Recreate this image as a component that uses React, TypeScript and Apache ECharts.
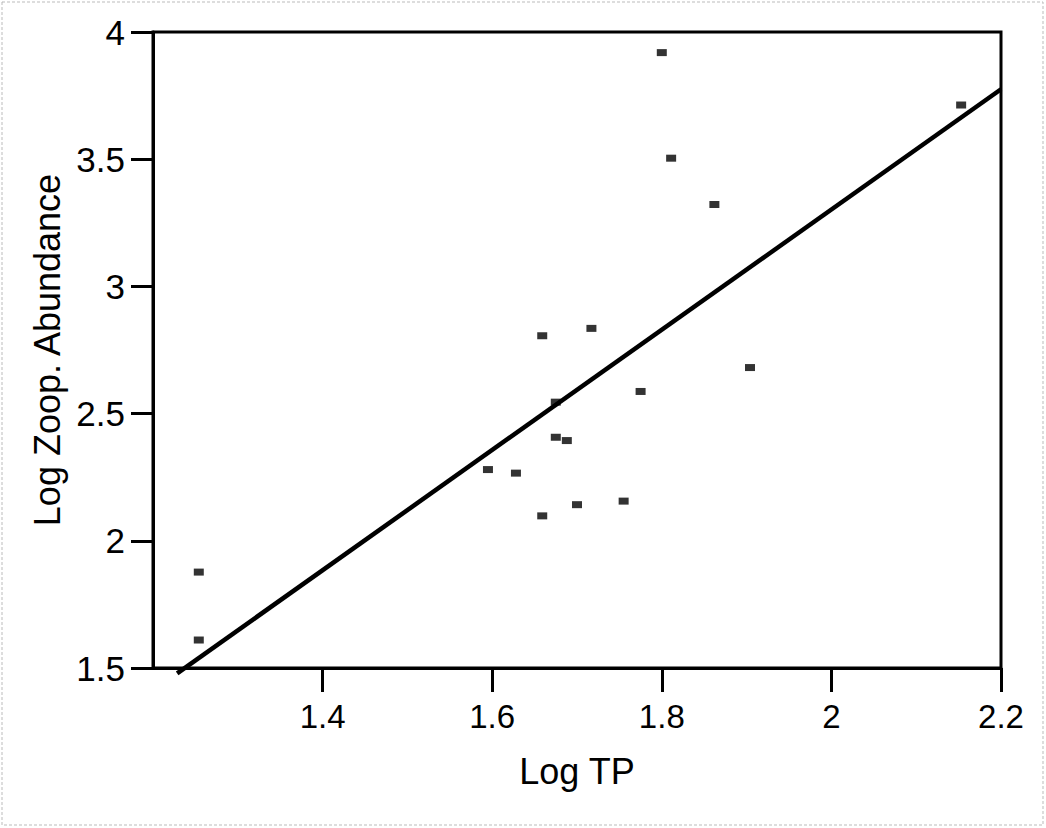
import React, { useEffect, useRef } from "react";
import * as echarts from "echarts";

const logTP = [1.254, 1.254, 1.595, 1.628, 1.659, 1.717, 1.675, 1.675, 1.688, 1.659, 1.700, 1.755, 1.775, 1.904, 1.800, 1.811, 1.862, 2.153];
const logZoop = [1.877, 1.61, 2.28, 2.266, 2.806, 2.835, 2.545, 2.407, 2.394, 2.098, 2.142, 2.156, 2.587, 2.681, 3.919, 3.504, 3.322, 3.713];
const fitX = [1.2285, 2.2];
const fitY = [1.479, 3.775];

const xAxisName = "Log TP";
const yAxisName = "Log Zoop. Abundance";

const FONT = "'Liberation Sans', Arial, Helvetica, sans-serif";

export default function App() {
  const ref = useRef<HTMLDivElement>(null);

  useEffect(() => {
    document.body.style.margin = "0";
    const chart = echarts.init(ref.current!, null, { renderer: "svg" });
    const points = logTP.map((x, i) => [x, logZoop[i]]);
    const fit = fitX.map((x, i) => [x, fitY[i]]);
    chart.setOption({
      animation: false,
      backgroundColor: "#ffffff",
      graphic: [
        {
          type: "rect",
          shape: { x: 2, y: 2, width: 1041, height: 823 },
          style: { fill: "none", stroke: "#bbbbbb", lineWidth: 1, lineDash: [3, 2] },
          silent: true,
        },
      ],
      grid: {
        left: 153,
        right: 45,
        top: 32,
        bottom: 160,
        show: true,
        borderColor: "#000",
        borderWidth: 3,
        backgroundColor: "transparent",
      },
      xAxis: {
        type: "value",
        min: 1.2,
        max: 2.2,
        interval: 0.2,
        name: xAxisName,
        nameLocation: "middle",
        nameGap: 85,
        nameTextStyle: { fontFamily: FONT, fontSize: 36, color: "#000" },
        axisLine: { show: true, lineStyle: { color: "#000", width: 3 } },
        axisTick: { show: true, inside: false, length: 24, lineStyle: { color: "#000", width: 3 } },
        axisLabel: {
          showMinLabel: false,
          margin: 32,
          fontFamily: FONT,
          fontSize: 33,
          color: "#000",
        },
        splitLine: { show: false },
      },
      yAxis: {
        type: "value",
        min: 1.5,
        max: 4,
        interval: 0.5,
        name: yAxisName,
        nameLocation: "middle",
        nameGap: 86,
        nameTextStyle: { fontFamily: FONT, fontSize: 36, color: "#000" },
        axisLine: { show: true, lineStyle: { color: "#000", width: 3 } },
        axisTick: { show: true, inside: false, length: 22, lineStyle: { color: "#000", width: 3 } },
        axisLabel: {
          margin: 28,
          fontFamily: FONT,
          fontSize: 35,
          color: "#000",
        },
        splitLine: { show: false },
      },
      series: [
        {
          type: "line",
          data: fit,
          symbol: "none",
          clip: false,
          lineStyle: { color: "#000", width: 4.5 },
          z: 3,
        },
        {
          type: "scatter",
          data: points,
          symbol: "rect",
          symbolSize: [10, 7],
          itemStyle: { color: "#000" },
          z: 4,
        },
      ],
    });
    return () => chart.dispose();
  }, []);

  return <div ref={ref} style={{ width: 1046, height: 828 }} />;
}
